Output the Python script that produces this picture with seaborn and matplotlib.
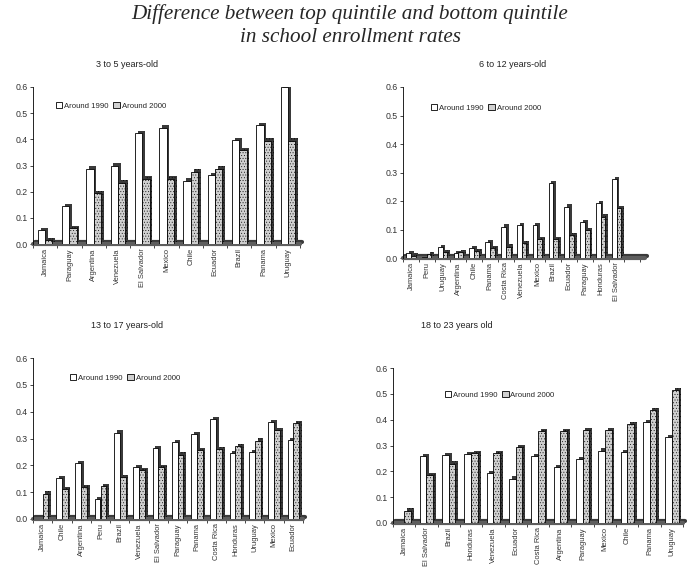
import numpy as np
import pandas as pd
import matplotlib
matplotlib.use("Agg")
import matplotlib.pyplot as plt
import matplotlib.patheffects as pe
import seaborn as sns

sns.set_style("white")
plt.rcParams['font.family'] = ['Liberation Sans', 'DejaVu Sans']

series_names = ["Around 1990", "Around 2000"]

p1_title = "3 to 5 years-old"
p1_countries = ["Jamaica", "Paraguay", "Argentina", "Venezuela", "El Salvador", "Mexico",
                "Chile", "Ecuador", "Brazil", "Panama", "Uruguay"]
p1_1990 = [0.052, 0.145, 0.288, 0.300, 0.425, 0.445, 0.242, 0.262, 0.398, 0.455, 0.600]
p1_2000 = [0.015, 0.060, 0.195, 0.235, 0.250, 0.250, 0.277, 0.288, 0.360, 0.395, 0.395]

p2_title = "6 to 12 years-old"
p2_countries = ["Jamaica", "Peru", "Uruguay", "Argentina", "Chile", "Panama", "Costa Rica",
                "Venezuela", "Mexico", "Brazil", "Ecuador", "Paraguay", "Honduras", "El Salvador"]
p2_1990 = [0.017, 0.004, 0.038, 0.017, 0.035, 0.057, 0.110, 0.115, 0.115, 0.262, 0.180, 0.125, 0.192, 0.278]
p2_2000 = [0.008, 0.014, 0.022, 0.022, 0.025, 0.035, 0.040, 0.052, 0.066, 0.066, 0.080, 0.097, 0.145, 0.175]

p3_title = "13 to 17 years-old"
p3_countries = ["Jamaica", "Chile", "Argentina", "Peru", "Brazil", "Venezuela", "El Salvador",
                "Paraguay", "Panama", "Costa Rica", "Honduras", "Uruguay", "Mexico", "Ecuador"]
p3_1990 = [0.0, 0.152, 0.208, 0.075, 0.322, 0.192, 0.265, 0.287, 0.317, 0.372, 0.245, 0.248, 0.362, 0.295]
p3_2000 = [0.095, 0.110, 0.120, 0.123, 0.157, 0.183, 0.193, 0.240, 0.257, 0.260, 0.272, 0.292, 0.330, 0.358]

p4_title = "18 to 23 years old"
p4_countries = ["Jamaica", "El Salvador", "Brazil", "Honduras", "Venezuela", "Ecuador", "Costa Rica",
                "Argentina", "Paraguay", "Mexico", "Chile", "Panama", "Uruguay"]
p4_1990 = [0.0, 0.260, 0.263, 0.268, 0.193, 0.172, 0.260, 0.215, 0.248, 0.280, 0.275, 0.390, 0.332]
p4_2000 = [0.048, 0.185, 0.230, 0.272, 0.272, 0.295, 0.357, 0.357, 0.360, 0.360, 0.382, 0.436, 0.515]

yticks = [0.0, 0.1, 0.2, 0.3, 0.4, 0.5, 0.6]

fig = plt.figure(figsize=(7.0, 5.67), dpi=100)
W, H = 700.0, 567.0

def fx(px):
    return px / W

def fy(py):
    return 1 - py / H

panels = [
    (p1_title, p1_countries, p1_1990, p1_2000, (33, 87, 300, 244), (127, 65), (56, 106), 0.0),
    (p2_title, p2_countries, p2_1990, p2_2000, (403, 87, 645, 258), (513, 65), (431, 108), 1.3),
    (p3_title, p3_countries, p3_1990, p3_2000, (33, 358, 303, 519), (127, 326), (70, 378), 0.0),
    (p4_title, p4_countries, p4_1990, p4_2000, (393, 368, 683, 523), (457, 326), (445, 395), 0.0),
]

for title, countries, v90, v00, box, tpos, lpos, extra in panels:
    l, t, r, b = box
    ax = fig.add_axes([fx(l), fy(b), (r - l) / W, (b - t) / H])
    df = pd.DataFrame({
        "country": countries * 2,
        "value": list(v90) + list(v00),
        "period": [series_names[0]] * len(countries) + [series_names[1]] * len(countries),
    })
    sns.barplot(data=df, x="country", y="value", hue="period", order=countries,
                hue_order=series_names,
                palette={series_names[0]: "white", series_names[1]: "#d0d0d0"},
                edgecolor="black", linewidth=0.6, width=0.6, ax=ax, zorder=3)
    n = len(countries)
    for bar in ax.patches:
        if bar.get_height() is None or bar.get_height() <= 0:
            continue
        bar.set_path_effects([pe.SimplePatchShadow(offset=(2.0, 1.6), shadow_rgbFace="#3a3a3a", alpha=1.0),
                              pe.Normal()])
    for bar in ax.containers[1]:
        bar.set_hatch("......")
        if hasattr(bar, "set_hatchcolor"):
            bar.set_hatchcolor("#a8a8a8")
        if hasattr(bar, "set_hatch_linewidth"):
            bar.set_hatch_linewidth(0.3)
    # floor
    ax.axhline(0, color="#5e5e5e", lw=3.0, zorder=1, clip_on=False,
               path_effects=[pe.SimpleLineShadow(offset=(1.5, 1.5), shadow_color="#3a3a3a", alpha=1), pe.Normal()])
    ax.set_xlim(-0.5, n - 0.5 + extra)
    ax.set_ylim(0, 0.6)
    ax.set_yticks(yticks)
    ax.set_yticklabels([f"{v:.1f}" for v in yticks])
    ax.set_xlabel("")
    ax.set_ylabel("")
    ax.set_xticks(range(n))
    ax.set_xticklabels(countries, rotation=90, fontsize=5.4, color="#333333")
    ax.set_xticks(np.arange(-0.5, n + extra, 1.0), minor=True)
    ax.tick_params(axis="x", which="major", length=0, pad=3)
    ax.tick_params(axis="x", which="minor", length=3, width=0.6, direction="out", bottom=True)
    ax.tick_params(axis="y", length=2.5, width=0.6, direction="out", left=True, labelsize=6.3,
                   labelcolor="#333333", pad=1.5)
    for s in ["top", "right", "bottom"]:
        ax.spines[s].set_visible(False)
    ax.spines["left"].set_linewidth(0.6)
    ax.spines["left"].set_color("black")
    leg = ax.legend(loc="center left", bbox_to_anchor=(fx(lpos[0]), fy(lpos[1])),
                    bbox_transform=fig.transFigure, ncol=2, frameon=False, fontsize=5.6,
                    handlelength=0.8, handleheight=0.8, handletextpad=0.25, columnspacing=0.6,
                    borderpad=0, borderaxespad=0)
    for h in leg.legend_handles:
        h.set_path_effects([])
        h.set_edgecolor("black")
        h.set_linewidth(0.6)
    fig.text(fx(tpos[0]), fy(tpos[1]), title, ha="center", va="center", fontsize=6.5, color="#222222")

fig.text(0.5, fy(14), "Difference between top quintile and bottom quintile", ha="center", va="center",
         fontsize=15.2, style="italic", family=["Liberation Serif", "DejaVu Serif"])
fig.text(0.5, fy(37), "in school enrollment rates", ha="center", va="center",
         fontsize=15.2, style="italic", family=["Liberation Serif", "DejaVu Serif"])

fig.savefig("out.png", dpi=100, facecolor="white")
